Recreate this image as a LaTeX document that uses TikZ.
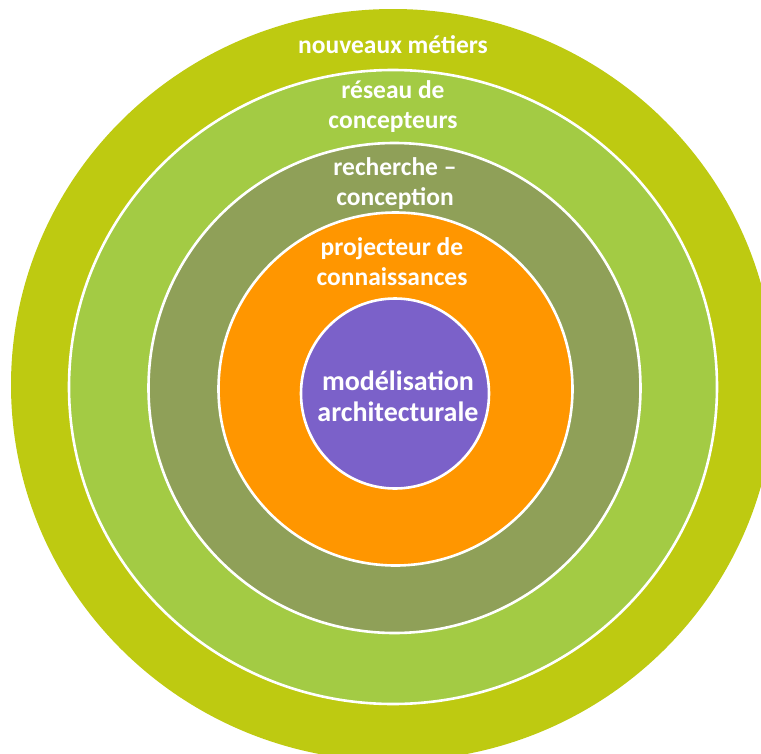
\documentclass[tikz,border=0pt]{standalone}
\usepackage{fontspec}
\setmainfont{Carlito}
\definecolor{cOuter}{HTML}{BECA11}
\definecolor{cLight}{HTML}{A3CB44}
\definecolor{cOlive}{HTML}{8FA058}
\definecolor{cOrange}{HTML}{FF9600}
\definecolor{cPurple}{HTML}{7B61C9}
\tikzset{
  ring/.style={draw=white, line width=2.6pt},
  lbl/.style={text=white, font=\bfseries\fontsize{25.5}{30}\selectfont, align=center, inner sep=0pt},
  biglbl/.style={text=white, font=\bfseries\fontsize{28}{31}\selectfont, align=center, inner sep=0pt}
}
\begin{document}
\begin{tikzpicture}[x=1pt,y=-1pt]
\useasboundingbox (0,0) rectangle (761,753);
\begin{scope}
\clip (0,0) rectangle (761,753);
\fill[cOuter] (393,385) ellipse [x radius=382, y radius=376];
\end{scope}
\filldraw[ring, fill=cLight] (393,387) ellipse [x radius=324, y radius=317];
\filldraw[ring, fill=cOlive] (394.5,388) ellipse [x radius=246, y radius=245];
\filldraw[ring, fill=cOrange] (395.5,389) ellipse [x radius=177, y radius=176.5];
\filldraw[ring, fill=cPurple] (395,393.5) ellipse [x radius=94, y radius=95];
\node[lbl] (t1) at (393,45) {nouveaux métiers};
\node[lbl] (t2) at (393,107) {réseau de\\concepteurs};
\node[lbl] (t3) at (395,184) {recherche –\\conception};
\node[lbl] (t4) at (392,262) {projecteur de\\connaissances};
\node[biglbl] (t5) at (398,396) {modélisation\\architecturale};
\end{tikzpicture}
\end{document}
